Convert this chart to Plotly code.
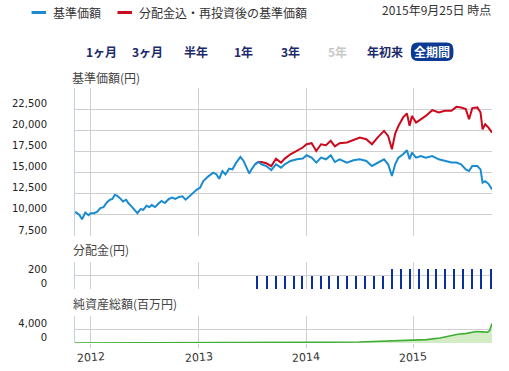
import plotly.graph_objects as go

# ---------------- data ----------------
kijun = [  # 基準価額
    ("2011-11-08", 10300), ("2011-11-12", 10275), ("2011-11-23", 10000), ("2011-12-02", 9480),
    ("2011-12-13", 10270), ("2011-12-24", 9960), ("2011-12-31", 10200),
    ("2012-01-11", 10200), ("2012-01-22", 10360), ("2012-02-02", 10800), ("2012-02-13", 10920),
    ("2012-02-24", 11470), ("2012-03-06", 11790), ("2012-03-14", 11880), ("2012-03-22", 12360),
    ("2012-03-30", 12270), ("2012-04-08", 12000), ("2012-04-19", 11590), ("2012-04-30", 11790),
    ("2012-05-07", 11400), ("2012-05-18", 11000), ("2012-05-27", 10680), ("2012-06-07", 10200),
    ("2012-06-18", 10680), ("2012-06-27", 10600), ("2012-07-08", 11080), ("2012-07-18", 10920),
    ("2012-07-26", 11160), ("2012-08-06", 10920), ("2012-08-17", 11320), ("2012-08-28", 11640),
    ("2012-09-08", 11400), ("2012-09-22", 11880), ("2012-10-03", 12040), ("2012-10-14", 11880),
    ("2012-10-27", 12120), ("2012-11-07", 12200), ("2012-11-18", 11790), ("2012-11-29", 12120),
    ("2012-12-12", 12510), ("2012-12-26", 12990),
    ("2013-01-06", 13200), ("2013-01-17", 13990), ("2013-02-04", 14580), ("2013-02-20", 14990),
    ("2013-03-03", 14780), ("2013-03-12", 14270), ("2013-03-23", 15180), ("2013-04-02", 14780),
    ("2013-04-15", 15470), ("2013-04-26", 15380), ("2013-05-09", 16180), ("2013-05-23", 16860),
    ("2013-06-03", 16370), ("2013-06-14", 15380), ("2013-06-22", 14900), ("2013-06-30", 15380),
    ("2013-07-12", 15980), ("2013-07-23", 16250), ("2013-08-03", 15980), ("2013-08-19", 15770),
    ("2013-09-05", 15300), ("2013-09-21", 15980), ("2013-10-08", 15580), ("2013-10-21", 15980),
    ("2013-11-09", 16370), ("2013-12-01", 16570), ("2013-12-21", 16660),
    ("2014-01-03", 17050), ("2014-01-20", 16770), ("2014-02-05", 16180), ("2014-02-21", 16770),
    ("2014-03-10", 16570), ("2014-03-26", 17050), ("2014-04-09", 16250), ("2014-04-25", 16570),
    ("2014-05-20", 16180), ("2014-06-11", 16450), ("2014-07-03", 16570), ("2014-07-25", 16370),
    ("2014-08-13", 15780), ("2014-09-01", 16180), ("2014-09-23", 16570), ("2014-10-07", 15980),
    ("2014-10-20", 14590), ("2014-10-31", 15980), ("2014-11-11", 16770), ("2014-11-27", 17160),
    ("2014-12-10", 17640), ("2014-12-19", 16570), ("2014-12-27", 17360),
    ("2015-01-10", 16770), ("2015-01-26", 16960), ("2015-02-12", 16770), ("2015-03-06", 16960),
    ("2015-03-28", 16570), ("2015-04-18", 16370), ("2015-05-10", 16180), ("2015-05-27", 16180),
    ("2015-06-12", 15980), ("2015-06-28", 15380), ("2015-07-09", 15180), ("2015-07-20", 15780),
    ("2015-08-06", 15780), ("2015-08-17", 15380), ("2015-08-24", 13800), ("2015-09-02", 13990),
    ("2015-09-13", 13670), ("2015-09-25", 13000),
]

reinvested = [  # 分配金込・再投資後の基準価額
    ("2013-07-12", 15980), ("2013-07-23", 16250), ("2013-08-03", 16250), ("2013-08-19", 16100),
    ("2013-09-05", 15770), ("2013-09-21", 16650), ("2013-10-08", 16180), ("2013-10-21", 16650),
    ("2013-11-09", 17160), ("2013-12-01", 17550), ("2013-12-21", 17960),
    ("2014-01-03", 18350), ("2014-01-20", 18470), ("2014-02-05", 17550), ("2014-02-21", 18350),
    ("2014-03-10", 18230), ("2014-03-26", 18750), ("2014-04-09", 18090), ("2014-04-25", 18470),
    ("2014-05-20", 18550), ("2014-06-11", 18820), ("2014-07-03", 19140), ("2014-07-25", 18940),
    ("2014-08-13", 18350), ("2014-09-01", 19140), ("2014-09-23", 19930), ("2014-10-07", 19330),
    ("2014-10-20", 17750), ("2014-10-31", 19620), ("2014-11-11", 20520), ("2014-11-27", 21520),
    ("2014-12-10", 21990), ("2014-12-19", 20520), ("2014-12-27", 21700),
    ("2015-01-10", 20920), ("2015-01-26", 21310), ("2015-02-12", 21700), ("2015-03-06", 22380),
    ("2015-03-28", 22110), ("2015-04-18", 22300), ("2015-05-10", 22300), ("2015-05-27", 22770),
    ("2015-06-12", 22700), ("2015-06-28", 22500), ("2015-07-09", 21310), ("2015-07-20", 22620),
    ("2015-08-06", 22700), ("2015-08-17", 22110), ("2015-08-24", 20120), ("2015-09-02", 20710),
    ("2015-09-13", 20320), ("2015-09-25", 19730),
]

dist_dates = [
    "2013-07-20", "2013-08-20", "2013-09-20", "2013-10-20", "2013-11-20", "2013-12-20",
    "2014-01-20", "2014-02-20", "2014-03-20", "2014-04-20", "2014-05-20", "2014-06-20",
    "2014-07-20", "2014-08-20", "2014-09-20", "2014-10-20", "2014-11-20", "2014-12-20",
    "2015-01-20", "2015-02-20", "2015-03-20", "2015-04-20", "2015-05-20", "2015-06-20",
    "2015-07-20", "2015-08-20", "2015-09-20",
]
dist_values = [200] * 15 + [300] * 12

nav = [  # 純資産総額(百万円)
    ("2011-11-08", 10), ("2012-06-01", 20), ("2013-01-01", 40), ("2013-07-01", 80),
    ("2014-01-01", 200), ("2014-07-01", 300), ("2014-10-01", 500), ("2015-01-01", 800),
    ("2015-02-15", 1000), ("2015-04-01", 1500), ("2015-05-01", 2000), ("2015-06-01", 2600),
    ("2015-07-01", 2850), ("2015-08-01", 3400), ("2015-08-25", 3300), ("2015-09-10", 3200),
    ("2015-09-17", 3700), ("2015-09-22", 5300), ("2015-09-25", 5750),
]

main_ticks = [7500, 10000, 12500, 15000, 17500, 20000, 22500, 25000]
dist_ticks = [0, 200, 400]
nav_ticks = [0, 4000, 8000]
year_ticks = ["2012-01-01", "2013-01-01", "2014-01-01", "2015-01-01"]
year_labels = ["2012", "2013", "2014", "2015"]
x_range = ["2011-11-08", "2015-09-25"]
periods = ["1ヶ月", "3ヶ月", "半年", "1年", "3年", "5年", "年初来", "全期間"]
as_of = "2015年9月25日 時点"

# ---------------- geometry helpers (pixels -> paper) ----------------
W, H = 509, 371
L, R, T, B = 60, 492, 88, 343


def px(x):
    return (x - L) / (R - L)


def py(y):
    return (B - y) / (B - T)


BLUE = "#1a8bd0"
RED = "#cc0a1e"
GRID = "#cfcfcf"
FONT = "DejaVu Sans, Noto Sans CJK JP, sans-serif"
CJK = "Noto Sans CJK JP, DejaVu Sans, sans-serif"

fig = go.Figure()

fig.add_trace(go.Scatter(
    x=[d for d, _ in reinvested], y=[v for _, v in reinvested],
    mode="lines", line=dict(color=RED, width=2), name="分配金込・再投資後の基準価額",
    xaxis="x", yaxis="y", showlegend=False))
fig.add_trace(go.Scatter(
    x=[d for d, _ in kijun], y=[v for _, v in kijun],
    mode="lines", line=dict(color=BLUE, width=2), name="基準価額",
    xaxis="x", yaxis="y", showlegend=False))

fig.add_trace(go.Bar(
    x=dist_dates, y=dist_values, width=[3.5 * 86400000] * len(dist_dates),
    marker=dict(color="#0b2f9c", line=dict(width=0)), name="分配金",
    xaxis="x2", yaxis="y2", showlegend=False))

fig.add_trace(go.Scatter(
    x=[d for d, _ in nav], y=[v for _, v in nav],
    mode="lines", line=dict(color="#3fae34", width=1.6),
    fill="tozeroy", fillcolor="#d3ecc6", name="純資産総額",
    xaxis="x3", yaxis="y3", showlegend=False))


def xax(anchor, bottom=False):
    d = dict(type="date", range=x_range, tickvals=year_ticks, showgrid=True,
             gridcolor=GRID, gridwidth=1, zeroline=False, showline=False,
             showticklabels=False, anchor=anchor, domain=[0, 1], fixedrange=True)
    if bottom:
        d.update(ticks="outside", ticklen=4, tickcolor="#b9cbe3")
    return d


def yax(domain, rng, ticks, labels):
    return dict(domain=domain, range=rng, tickvals=ticks, ticktext=labels,
                showgrid=True, gridcolor=GRID, gridwidth=1, zeroline=False,
                showline=True, linecolor="#c3d1e6", linewidth=1,
                ticks="", ticklabelstandoff=25, ticklabelshift=-6,
                tickfont=dict(family=FONT, size=10, color="#222"), fixedrange=True)


fig.update_layout(
    width=W, height=H, autosize=False,
    margin=dict(l=L, r=W - R, t=T, b=H - B, pad=0),
    paper_bgcolor="white", plot_bgcolor="white",
    font=dict(family=FONT, size=11, color="#222"),
    bargap=0,
    xaxis=xax("y"), xaxis2=xax("y2"), xaxis3=xax("y3", bottom=True),
    yaxis=yax([py(236), 1], [7500, 25000], main_ticks,
              [f"{v:,}" for v in main_ticks[:-1]] + [""]),
    yaxis2=yax([py(289), py(262)], [0, 400], dist_ticks,
               [f"{v:,}" for v in dist_ticks[:-1]] + [""]),
    yaxis3=yax([0, py(316)], [0, 8000], nav_ticks,
               [f"{v:,}" for v in nav_ticks[:-1]] + [""]),
)

ann = []
shapes = []

# legend
shapes.append(dict(type="line", xref="paper", yref="paper", x0=px(15), x1=px(30),
                   y0=py(12.5), y1=py(12.5), line=dict(color=BLUE, width=3)))
shapes.append(dict(type="line", xref="paper", yref="paper", x0=px(104), x1=px(119),
                   y0=py(12.5), y1=py(12.5), line=dict(color=RED, width=3)))
ann.append(dict(text="基準価額", x=px(35), y=py(12.5), xanchor="left", yanchor="middle"))
ann.append(dict(text="分配金込・再投資後の基準価額", x=px(124), y=py(12.5),
                xanchor="left", yanchor="middle"))
ann.append(dict(text=as_of, x=px(493), y=py(9.5), xanchor="right", yanchor="middle"))

# period buttons
btn_centers = [87.5, 135.5, 185, 234.5, 283.5, 331.5, 381, 430]
x0b, x1b, y0b, y1b, r = 408, 452, 42.5, 61, 7
path = (f"M {px(x0b + r)},{py(y0b)} L {px(x1b - r)},{py(y0b)} "
        f"Q {px(x1b)},{py(y0b)} {px(x1b)},{py(y0b + r)} "
        f"L {px(x1b)},{py(y1b - r)} Q {px(x1b)},{py(y1b)} {px(x1b - r)},{py(y1b)} "
        f"L {px(x0b + r)},{py(y1b)} Q {px(x0b)},{py(y1b)} {px(x0b)},{py(y1b - r)} "
        f"L {px(x0b)},{py(y0b + r)} Q {px(x0b)},{py(y0b)} {px(x0b + r)},{py(y0b)} Z")
shapes.append(dict(type="path", xref="paper", yref="paper", path=path,
                   fillcolor="#0c3a92", line=dict(width=0)))
for label, cx in zip(periods, btn_centers):
    if label == "5年":
        col = "#c8c8c8"
    elif label == "全期間":
        col = "white"
    else:
        col = "#1b2a6b"
    ann.append(dict(text=f"<b>{label}</b>", x=px(cx), y=py(51), xanchor="center",
                    yanchor="middle", font=dict(family=CJK, size=12, color=col)))

# panel titles
ann.append(dict(text="基準価額(円)", x=px(55), y=py(78), xanchor="left", yanchor="middle",
                font=dict(family=CJK, size=12, color="#444")))
ann.append(dict(text="分配金(円)", x=px(56), y=py(249), xanchor="left", yanchor="middle",
                font=dict(family=CJK, size=12, color="#444")))
ann.append(dict(text="純資産総額(百万円)", x=px(56), y=py(303), xanchor="left", yanchor="middle",
                font=dict(family=CJK, size=12, color="#444")))

# year labels (slightly tilted)
for d, lab in zip(year_ticks, year_labels):
    ann.append(dict(text=lab, x=d, xref="x3", y=py(357), yref="paper", xanchor="center",
                    yanchor="middle", textangle=-4, showarrow=False,
                    font=dict(family=FONT, size=11, color="#333")))

for a in ann:
    a.setdefault("xref", "paper")
    a.setdefault("yref", "paper")
    a.setdefault("showarrow", False)
    a.setdefault("font", dict(family=CJK, size=12, color="#333"))

fig.update_layout(annotations=ann, shapes=shapes)

fig.write_html("out.html", config={"displayModeBar": False},
               post_script="document.body.style.margin='0';document.body.style.overflow='hidden';")
